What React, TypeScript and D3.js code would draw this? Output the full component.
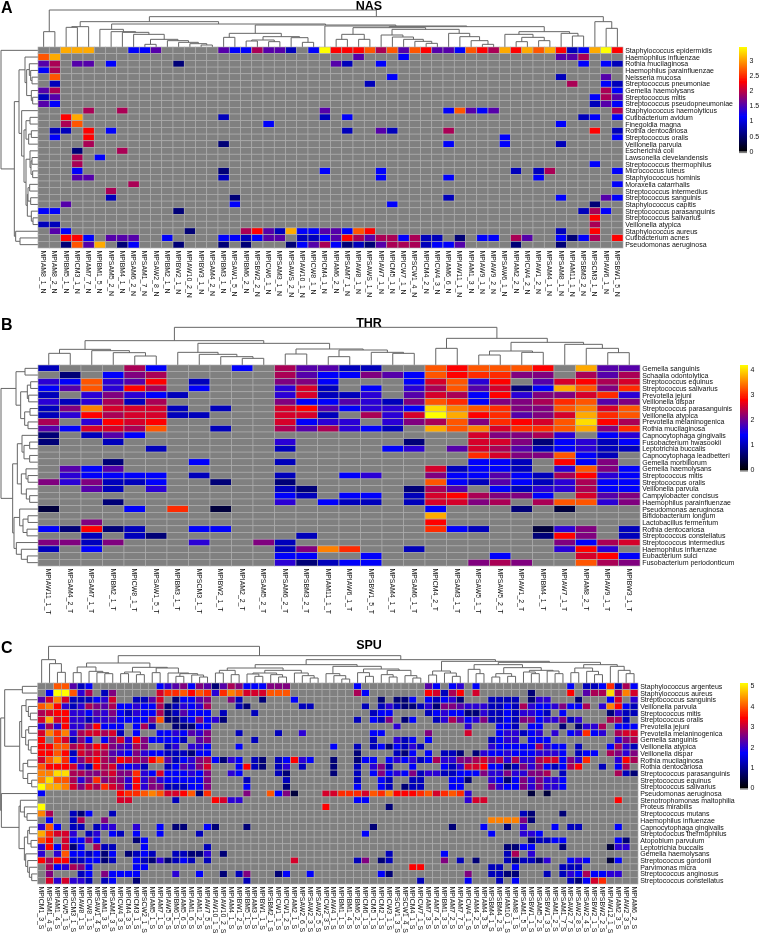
import React from "react";
import * as d3 from "d3";

type Tree = number | [number, Tree, Tree];
const L = 0;
const n = (h: number, a: Tree, b: Tree): Tree => [h, a, b];

// ---------- NAS ----------
const nasColumns = ["MPIAM8_1_N","MPIAM8_2_N","MPIBM5_1_N","MPICM3_1_N","MPIAM7_7_N","MPIBM1_5_N","MPSAM5_2_N","MPIBM4_1_N","MPSAM6_2_N","MPSAM1_7_N","MPSAW2_8_N","MPIBM2_1_N","MPIBW2_1_N","MPIAW10_2_N","MPIBW3_1_N","MPSAM4_2_N","MPIBM3_1_N","MPSAW1_5_N","MPIBM6_2_N","MPSBW2_2_N","MPICW6_1_N","MPSAM3_1_N","MPSAWS_2_N","MPIAW10_1_N","MPICW8_1_N","MPICM4_1_N","MPIAM6_2_N","MPSAM7_1_N","MPIAW8_1_N","MPSAWS_1_N","MPIAW7_1_N","MPICM5_1_N","MPICW7_1_N","MPSCW1_4_N","MPICM4_2_N","MPICW4_3_N","MPIAM6_6_N","MPIAW11_1_N","MPIAM1_3_N","MPIAW9_1_N","MPIAW9_2_N","MPSAW6_1_N","MPIAM2_2_N","MPICW4_2_N","MPIAW1_2_N","MPSAM4_1_N","MPSAM8_1_N","MPIAM11_1_N","MPSBM3_2_N","MPSCM3_1_N","MPIAW6_1_N","MPSBW1_5_N"];
const nasSpecies = ["Staphylococcus epidermidis","Haemophilus influenzae","Rothia mucilaginosa","Haemophilus parainfluenzae","Neisseria mucosa","Streptococcus pneumoniae","Gemella haemolysans","Streptococcus mitis","Streptococcus pseudopneumoniae","Staphylococcus haemolyticus","Cutibacterium avidum","Finegoldia magna","Rothia dentocariosa","Streptococcus oralis","Veillonella parvula","Escherichia coli","Lawsonella clevelandensis","Streptococcus thermophilus","Micrococcus luteus","Staphylococcus hominis","Moraxella catarrhalis","Streptococcus intermedius","Streptococcus sanguinis","Staphylococcus capitis","Streptococcus parasanguinis","Streptococcus salivarius","Veillonella atypica","Staphylococcus aureus","Cutibacterium acnes","Pseudomonas aeruginosa"];
const nasRows = [
"..888...334.....4335442.39 66675747644376586878623896",
"78........................ ..4...3.............445...",
"45.44.3.....1............. 42..3.................3.32",
"35........................ ..........................",
".7........................ .....3..............2...4.",
".2........................ ...2.................5..32",
"45........................ ........................53",
"24........................ .......................354",
"43........................ .......................243",
"....5..5.................4 ..........37434..........5",
"..68............2........2 .3....................23.3",
"..57................3..... ....................3.....",
".22.6.3................... .2..42....5............6.2",
".3..6..................... ...............3.........3",
"....5...........1......... ..........3....3....2.....",
"...1...5.................. ..........................",
"...5.3.................... ..........................",
"...5...................... .......................3..",
"...3............1........3 ....3...........2.25.....3",
"...44...........2......... ....3.....3.......3.......",
"........5................. .........................3",
"......5................... ..........................",
"......2..........1........ ..........2.........3...43",
"..4..............3........ .....3.................1..",
"33..........1............. ......................253.",
".......................... .......................6..",
"22........................ .......................5..",
".43..........1....56428334 4376................2..6..",
"..663.444..3....332344.223 4654553522.1.33.54..3135.6",
"..1748.13...1...1.1...1345 312145552334....1...1.....",
];
const nasBranchA: Tree = n(53, L, n(46, L, n(44, L, n(38, L, n(23, n(8, L, L), n(19, L, n(14, L, n(10, L, n(6, L, L)))))))));
const nasBranchB: Tree = n(41, n(29, L, L), n(31, n(21, n(18, L, L), n(16, L, L)), n(28, L, n(14, L, L))));
const nasBranchC: Tree = n(58, n(38, n(23, L, L), n(23, L, L)), n(53, n(36, L, n(30, L, n(23, L, n(17, L, n(11, L, L))))), n(41, L, n(31, L, n(19, L, n(8, L, L))))));
const nasBranchD: Tree = n(46, n(38, L, n(29, n(16, L, L), n(19, L, L))), n(41, L, n(33, L, L)));
const nasBranchE: Tree = n(66, nasBranchB, n(63, L, n(61, nasBranchC, nasBranchD)));
const nasBranchF: Tree = n(76, n(61, n(59, L, L), L), n(69, nasBranchA, nasBranchE));
const nasColumnTree: Tree = n(111, n(46, L, L), n(91, nasBranchF, n(76, L, n(56, L, L))));
const nasRowTree: Tree = n(111, L,
  n(71,
    n(57,
      n(39, L, n(34, n(26, L, n(22, L, n(18, L, L))), n(20, L, n(16, L, L)))),
      n(49, L, n(42,
        n(36, n(24, L, L), n(28, n(20, L, L), L)),
        n(36, n(24, L, n(21, n(18, L, L), n(16, L, L))),
          n(32, n(30, n(25, L, L), n(22, L, L)), n(20, L, n(15, L, L))))))),
    n(67, L, n(54, L, L))));
const nasTicks = [0, 0.5, 1, 1.5, 2, 2.5, 3];
const nasMax = 3.43;

// ---------- THR ----------
const thrColumns = ["MPIAW11_1_T","MPSAM4_2_T","MPSAM7_1_T","MPIBM2_1_T","MPICW8_1_T","MPSAW1_5_T","MPIBM3_1_T","MPSCM3_1_T","MPIBW2_1_T","MPIAM2_2_T","MPSAM5_2_T","MPSAM6_2_T","MPSBM3_2_T","MPIAM11_1_T","MPIAW6_1_T","MPSBW1_5_T","MPSAM4_1_T","MPSAM6_1_T","MPICM4_2_T","MPSAM3_1_T","MPSAW5_1_T","MPSAW5_2_T","MPIAW1_2_T","MPIBM4_1_T","MPIAW7_1_T","MPIAM8_2_T","MPIAW9_1_T","MPIBW3_1_T"];
const thrSpecies = ["Gemella sanguinis","Schaalia odontolytica","Streptococcus equinus","Streptococcus salivarius","Prevotella jejuni","Veillonella dispar","Streptococcus parasanguinis","Veillonella atypica","Prevotella melaninogenica","Rothia mucilaginosa","Capnocytophaga gingivalis","Fusobacterium hwasookii","Leptotrichia buccalis","Capnocytophaga leadbetteri","Gemella morbillorum","Gemella haemolysans","Streptococcus mitis","Streptococcus oralis","Veillonella parvula","Campylobacter concisus","Haemophilus parainfluenzae","Pseudomonas aeruginosa","Bifidobacterium longum","Lactobacillus fermentum","Rothia dentocariosa","Streptococcus constellatus","Streptococcus intermedius","Haemophilus influenzae","Eubacterium sulci","Fusobacterium periodonticum"];
const thrRows = [
"2...53...3.544 22..767776.844",
".1.3p5.....543 3p4376oopp.545",
"a37a46.2...pp3 ...3r7a6.4r65r",
"347a65.3...ar2 .3.a574r1387po",
"2.apa32....ar2 2a.4r536approa",
"a2a525.....p33 4a2p7o3pp5o74p",
"2ptrrr2.2..r64 3aa3yt7opp7tr7",
"2a65rr22...rr2 .5ar986o4pr8o7",
"5.a6r6.....r3a a.ap57po6r7y65",
"43rr57..2..545 a32.87troo78po",
"1.243......... ......rpp5a.3a",
"1..2.......a.. ...1..rrp13a23",
".....2.....2.. ..3a.4r5423a22",
".............. ......orpp732.",
"...1...3...2.. ......332.63p.",
".434.......... ....r2332.a7p3",
".a3333.2...2.. 3a..p3343256a3",
"pap223..1..1.. ....732432a533",
"..42.a.....21. ...154.32aa533",
"...........32. 33.2r65pp3.r4p",
"...1.......a.3 22.2rrp5.577ap",
"0...3.o.0..... ....3...1.0...",
".............. ....8.........",
"..p........... ....6.........",
"31612..33..... ....o32..0ap.2",
"..2.21......2. .........16p.2",
"pp2p...a..p2.. ..........p35r",
"2.3........2pt o..2......a6a.",
"...........33. .3.....3...r63",
"...........a12 33....p5p..75p",
];
const thrColumnTree: Tree = n(113,
  n(73,
    n(47, n(35, L, L), n(43, L, n(37, L, n(27, L, L)))),
    n(65,
      n(38, L, n(32, L, n(25, L, n(20, L, L)))),
      n(48, n(33, L, L), n(45, n(25, L, L), n(38, L, n(35, L, L)))))),
  n(80, n(50, L, L),
    n(68,
      n(42, n(30, L, L), n(38, L, L)),
      n(62, L, n(50, L, n(37, L, L))))));
const thrRowTree: Tree = n(111,
  n(66, n(39, L, L), n(52, n(32, n(22, L, L), n(28, L, L)), n(40, n(24, L, L), n(30, L, L)))),
  n(76,
    n(62,
      n(48, L, n(42, n(25, L, L), n(25, L, L))),
      n(50, n(36, L, n(30, L, L)), n(35, L, n(25, L, L)))),
    n(72,
      n(55, L, n(45, n(30, L, L), n(33, L, L))),
      n(65, L, n(50, L, n(32, L, L))))));
const thrTicks = [0, 1, 2, 3, 4];
const thrMax = 4.17;

// ---------- SPU ----------
const spuColumns = ["MPICM1_3_S","MPSAM1_4_S","MPIAM1_4_S","MPICW5_1_S","MPSCM3_1_S","MPIAW8_1_S","MPICW8_1_S","MPSAW1_4_S","MPIAM1_3_S","MPSAM1_3_S","MPICW4_3_S","MPICM4_3_S","MPICM3_1_S","MPSCW2_1_S","MPIAM5_1_S","MPIAM7_1_S","MPIAW5_5_S","MPIBM6_1_S","MPIAM5_6_S","MPIAM1_6_S","MPIAM1_2_S","MPIAW7_5_S","MPIAW10_1_S","MPIAW10_2_S","MPIAM4_1_S","MPIBW1_2_S","MPIBM5_1_S","MPIAM3_1_S","MPIBW1_1_S","MPSBM2_1_S","MPICW1_1_S","MPICW1_2_S","MPIAM2_1_S","MPSAW2_6_S","MPSAW2_3_S","MPSAW2_5_S","MPICW2_3_S","MPIAW4_1_S","MPIBM1_1_S","MPIBM1_4_S","MPIBM6_2_S","MPICM6_1_S","MPICM5_1_S","MPICM2_1_S","MPICW3_1_S","MPSCW1_3_S","MPSCW1_4_S","MPICM4_1_S","MPICW7_1_S","MPIAM7_3_S","MPIAM7_4_S","MPIBM1_3_S","MPIAM7_2_S","MPIAM7_7_S","MPICW4_1_S","MPIAM4_2_S","MPIAM4_3_S","MPSBM4_1_S","MPSBM4_2_S","MPIAM10_1_S","MPIAM8_1_S","MPSAM1_5_S","MPSBW1_1_S","MPSAM5_2_S","MPSBW1_3_S","MPSAM1_2_S","MPSAM1_7_S","MPSAW2_7_S","MPSAW2_8_S","MPSAW2_4_S","MPSBW2_1_S","MPSBW2_2_S","MPIAW12_1_S","MPIAM2_3_S","MPIAW2_3_S","MPIAM6_2_S"];
const spuSpecies = ["Staphylococcus argenteus","Staphylococcus aureus","Streptococcus sanguinis","Veillonella parvula","Streptococcus mitis","Streptococcus oralis","Prevotella jejuni","Prevotella melaninogenica","Gemella sanguinis","Veillonella atypica","Veillonella dispar","Rothia mucilaginosa","Rothia dentocariosa","Streptococcus parasanguinis","Streptococcus equinus","Streptococcus salivarius","Pseudomonas aeruginosa","Stenotrophomonas maltophilia","Proteus mirabilis","Streptococcus mutans","Haemophilus influenzae","Capnocytophaga gingivalis","Streptococcus thermophilus","Atopobium parvulum","Leptotrichia buccalis","Gemella haemolysans","Streptococcus gordonii","Parvimonas micra","Streptococcus anginosus","Streptococcus constellatus"];
const spuRows = [
"..77423........3a4p3 p4145p333ppp..... ...3........43.3a .3...........3.223o253",
".3997a5.2p.....roo76 7oaot7rrr777..... ...53.......6r256 .r......1....6.455y5tr",
"4rtr2223ar..224r.133 4p..p2..1...3.... ......1.113.323a1 ...2222.1aa...1...3r.a",
"7t6a2a5p4533a33512a3 a5...21......22.. ....2.2a2112a1pp4 aaa22325a33ap335.at632",
"5r66aa34ap32a3351243 33.2...2......... .....233....23a33 11a2232aa32.3.....1a22",
"r8r6aa2aa43333p71123 p3a1............. ...2.32p.13..2a54 3ap2232pp3aap2a...552.",
"a5a6aap6333.352..111 33............... ........a........ a...332.33..1.1aa5.333",
"rtota5rr5r2.3..33a34 ap...2....2..a... .....33.....p.... r...3aa23a.a.3ao3a.5rr",
"6.or2p3.3pra6p33332. 4p.....2......... .....2..a23.3.... ...23aa.333........ap5",
"66775r56rp4a5p..2a.a a3...3........... 3..2.23132a2..... ...a333335a33.2...35a2",
"66762r5r54a3pa332221 33............... ...1....213.3.221 .1a33a333aaa3.233.5pap",
"r78o3pr65p6r5p67423a p531a3.21.236a3.. 1..133.3a3a235aap p5rp5a5aa5rr3pao...a65",
"7666ra265ra3a2..234a pr...3621.2a.2... 1..2.ap2..3...32a rr63312pap32356..2.35.",
"ttyy55pp5rppoa3r333a 3p..a3....21..... 1..2.3p3a3p2aa223 33paapaapp5.2......521",
"ty775apop5pa6apa3333 3p....2....2..... ...2..32..22...33 1..a313papaa3.........",
"988trpr5or5a6app2223 3p....3....1..... ...3..32.122...33 ...pa33papaa3.........",
"3.........6oo7t7rr67 1o....p..73p0...r rooor7ot666o7ro7o a.......0.0...........",
"..........rr.....2.. ..6raa........... ...33............ arr................6..",
"9................... ................6 .......1......... ......................",
"t5..213..2.......... ................. ................. .......21...1.........",
".3..25..p........... ................. ................. ...ttttp1.............",
"a73.22.2aa..a..3.11. .31...1.......... .....1.........1. ..3..1.a...3.22....3..",
"8orra.2a.32.3..3.... 2................ ....3............ ...3...aa3............",
"76.r33p3....13...... ................. ................. ........12233......31.",
"a63r13.522...3...... .2............... ................. .....1133...1.....0aa.",
"a.a7332313.1232..221 1a.1............. .......2......3.. .....25.a.............",
"6566223312..321a1232 .2..........r.... ...2p.12......p.2 .1...21221a..3a3..03..",
".53a5p3.....33...... ................. ..........66..... ...22.3.....222.......",
".p...23.p3333....a.. 3..1.2p...13..3.. ......31......... p..2211...2.2a3533aa..",
".raraa2.23..1....... ......2.......... ...........2..... 3...2.3......213ro....",
];
const spuColumnTree: Tree = n(110,
  n(70, L, n(58, L, n(32, L, L))),
  n(82,
    n(60,
      n(48, n(31, L, L), n(35, L, n(31, L, n(28, L, L)))),
      n(47,
        n(33, n(28, L, L), n(25, L, L)),
        n(45, n(31, L, L), n(30, L, n(28, n(20, L, L), n(24, L, n(18, L, L))))))),
    n(70,
      n(55,
        n(45,
          n(38, n(30, L, L), n(25, L, L)),
          n(38,
            n(30, n(27, L, n(20, L, L)), n(25, L, n(18, L, L))),
            n(30, L, n(22, L, n(15, L, L))))),
        n(50,
          n(28, L, n(22, L, n(12, L, L))),
          n(42,
            n(31, L, n(20, L, L)),
            n(38, n(25, L, n(18, L, L)), n(22, L, n(15, L, L)))))),
      n(65,
        n(36, n(24, L, L), n(30, L, n(20, L, L))),
        n(62,
          n(55,
            n(41, L, n(28, L, L)),
            n(46,
              n(28, n(18, L, L), n(20, L, L)),
              n(38, n(33, L, n(28, L, L)), n(36, L, n(28, L, L))))),
          n(55,
            n(45, n(31, L, L), n(35, L, n(25, L, L))),
            n(50, L, n(38, L, n(28, L, L)))))))));
const spuRowTree: Tree = n(111,
  n(99,
    n(46, L, L),
    n(54,
      n(48,
        n(35, L, n(28, L, n(22, L, L))),
        n(36, n(27, L, L), n(28, L, n(20, L, L)))),
      n(44, n(30, L, L), n(30, L, n(18, L, L))))),
  n(109, L,
    n(56,
      n(52, L, n(40, L, n(32, L, L))),
      n(40,
        n(30, n(25, L, L), n(20, L, L)),
        n(36, L, n(30, L, n(25, L, n(18, L, L))))))));
const spuTicks = [0, 1, 2, 3, 4, 5];
const spuMax = 5.13;

// ---------- drawing ----------
const FONT = "'Liberation Sans', Arial, sans-serif";
const LEVELS: Record<string, number> = { "0": 0.7, "1": 1.4, "2": 2.2, "3": 2.95, a: 3.5, p: 4.5, r: 5.5, o: 6.5, t: 7.5, y: 8.6 };
const decode = (rows: string[], max: number) =>
  rows.map((r) =>
    r.replace(/\s+/g, "").split("").map((c) => {
      if (c === ".") return null;
      const lv = c in LEVELS ? LEVELS[c] : +c;
      return (lv / 9) * max;
    })
  );

type Joint = { a: { p: number; h: number }; b: { p: number; h: number }; h: number };
function walk(t: Tree, next: { i: number }, out: Joint[]): { p: number; h: number } {
  if (typeof t === "number") return { p: next.i++ + 0.5, h: 0 };
  const a = walk(t[1], next, out);
  const b = walk(t[2], next, out);
  out.push({ a, b, h: t[0] });
  return { p: (a.p + b.p) / 2, h: t[0] };
}

function Panel(props: {
  title: string; letter: string; titleY: number; letterY: number;
  columns: string[]; species: string[]; rows: string[]; max: number; ticks: number[];
  columnTree: Tree; rowTree: Tree;
  x0: number; x1: number; y0: number; y1: number; lx: number; ly1: number; id: string;
}) {
  const { title, letter, titleY, letterY, columns, species, rows, max, ticks, columnTree, rowTree, x0, x1, y0, y1, lx, ly1, id } = props;
  const values = decode(rows, max);
  const x = d3.scaleBand<number>().domain(d3.range(columns.length)).range([x0, x1]);
  const y = d3.scaleBand<number>().domain(d3.range(species.length)).range([y0, y1]);
  const color = d3.scaleLinear<string>().domain([0, max / 3, (2 * max) / 3, max]).range(["#000000", "#0000ff", "#ff0000", "#ffff00"]);
  const lg = d3.scaleLinear().domain([0, max]).range([ly1, y0]);
  const hTop = d3.scaleLinear().domain([0, 114]).range([0, 38]);

  const colJ: Joint[] = [];
  walk(columnTree, { i: 0 }, colJ);
  const colPos = d3.scaleLinear().domain([0, columns.length]).range([x0, x1]);
  const colPath = d3.path();
  colJ.forEach((j) => {
    colPath.moveTo(colPos(j.a.p), y0 - hTop(j.a.h));
    colPath.lineTo(colPos(j.a.p), y0 - hTop(j.h));
    colPath.lineTo(colPos(j.b.p), y0 - hTop(j.h));
    colPath.lineTo(colPos(j.b.p), y0 - hTop(j.b.h));
  });
  const rowJ: Joint[] = [];
  walk(rowTree, { i: 0 }, rowJ);
  const rowPos = d3.scaleLinear().domain([0, species.length]).range([y0, y1]);
  const rowPath = d3.path();
  rowJ.forEach((j) => {
    rowPath.moveTo(x0 - hTop(j.a.h), rowPos(j.a.p));
    rowPath.lineTo(x0 - hTop(j.h), rowPos(j.a.p));
    rowPath.lineTo(x0 - hTop(j.h), rowPos(j.b.p));
    rowPath.lineTo(x0 - hTop(j.b.h), rowPos(j.b.p));
  });

  const gradStops = [0, 1 / 3, 2 / 3, 1];
  return (
    <g fontFamily={FONT}>
      <text x={1} y={letterY} fontSize={16} fontWeight={700} fill="#000">{letter}</text>
      <text x={369} y={titleY} fontSize={12.5} fontWeight={700} textAnchor="middle" fill="#000">{title}</text>
      <path d={colPath.toString()} fill="none" stroke="#666" strokeWidth={1} />
      <path d={rowPath.toString()} fill="none" stroke="#666" strokeWidth={1} />
      {values.map((row, r) =>
        row.map((v, c) => (
          <rect key={`${r}-${c}`} x={x(c)} y={y(r)} width={x.bandwidth()} height={y.bandwidth()}
            fill={v === null ? "#808080" : color(v)} stroke="#adadad" strokeWidth={0.6} />
        ))
      )}
      {species.map((s, r) => (
        <text key={s} x={x1 + 2.2} y={(y(r) as number) + y.bandwidth() / 2} dy="0.35em" fontSize={7} fill="#111">{s}</text>
      ))}
      {columns.map((s, c) => {
        const cx = (x(c) as number) + x.bandwidth() / 2;
        const top = y1 + 2.5;
        return (
          <text key={s + c} transform={`translate(${cx},${top}) rotate(90)`} dy="0.35em" fontSize={6.9} fill="#111">{s}</text>
        );
      })}
      <defs>
        <linearGradient id={id} x1="0" y1="1" x2="0" y2="0">
          {gradStops.map((t) => (
            <stop key={t} offset={t} stopColor={color(t * max)} />
          ))}
        </linearGradient>
      </defs>
      <rect x={lx} y={ly1} width={8} height={1.6} fill="#808080" />
      <rect x={lx} y={y0} width={8} height={ly1 - y0} fill={`url(#${id})`} />
      {ticks.map((t) => (
        <text key={t} x={lx + 10.5} y={lg(t)} dy="0.35em" fontSize={7} fill="#111">{t}</text>
      ))}
    </g>
  );
}

export default function App() {
  return (
    <svg width={760} height={936} viewBox="0 0 760 936" style={{ position: "absolute", left: 0, top: 0, background: "#fff" }}>
      <defs>
        <filter id="soft" x="0" y="0" width="100%" height="100%" filterUnits="objectBoundingBox">
          <feGaussianBlur stdDeviation={0.3} />
        </filter>
      </defs>
      <g filter="url(#soft)">
        <rect x={0} y={0} width={760} height={936} fill="#fff" />
        <Panel id="gA" title="NAS" letter="A" titleY={9.5} letterY={13} columns={nasColumns} species={nasSpecies} rows={nasRows} max={nasMax} ticks={nasTicks}
          columnTree={nasColumnTree} rowTree={nasRowTree} x0={38} x1={623} y0={47} y1={248} lx={739} ly1={151.5} />
        <Panel id="gB" title="THR" letter="B" titleY={326.5} letterY={330} columns={thrColumns} species={thrSpecies} rows={thrRows} max={thrMax} ticks={thrTicks}
          columnTree={thrColumnTree} rowTree={thrRowTree} x0={38} x1={640} y0={365} y1={566} lx={740} ly1={470} />
        <Panel id="gC" title="SPU" letter="C" titleY={649} letterY={652.5} columns={spuColumns} species={spuSpecies} rows={spuRows} max={spuMax} ticks={spuTicks}
          columnTree={spuColumnTree} rowTree={spuRowTree} x0={37.7} x1={638} y0={683} y1={884} lx={740} ly1={788} />
      </g>
    </svg>
  );
}
